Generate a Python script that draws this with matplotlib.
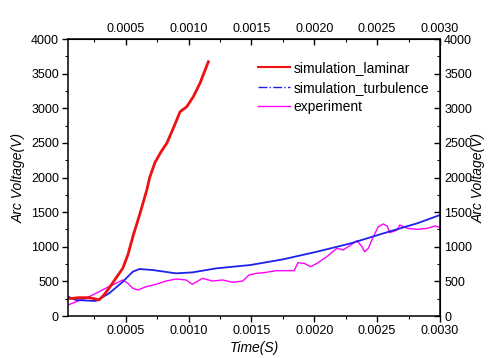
import numpy as np
import matplotlib
matplotlib.use("Agg")
import matplotlib.pyplot as plt
from matplotlib.lines import Line2D
from matplotlib.ticker import MultipleLocator

plt.rcParams["font.family"] = ["Liberation Sans", "DejaVu Sans"]

# datos
t_lam = [0.00004, 0.00007, 0.000127, 0.000207, 0.00025, 0.000286, 0.000326, 0.000366,
         0.00042, 0.000476, 0.000516, 0.00056, 0.000614, 0.000667, 0.00069, 0.000733,
         0.00078, 0.000826, 0.00088, 0.000932, 0.000985, 0.001037, 0.00109, 0.001157]
v_lam = [255, 255, 265, 265, 250, 231, 303, 400,
         544, 689, 880, 1170, 1487, 1820, 2000, 2220,
         2370, 2494, 2720, 2950, 3022, 3167, 3360, 3672]

t_tur = [0.00004, 0.000105, 0.000262, 0.000368, 0.000476, 0.000556, 0.000608, 0.000714,
         0.0009, 0.00103, 0.00122, 0.00149, 0.00175, 0.00202, 0.00229, 0.00255,
         0.00282, 0.003]
v_tur = [279, 231, 217, 328, 495, 640, 679, 664,
         616, 630, 688, 736, 818, 928, 1049, 1194,
         1339, 1458]

t_exp = [0.00004, 0.000105, 0.000183, 0.000262, 0.00034, 0.00042, 0.000476, 0.000516,
         0.000556, 0.000595, 0.000661, 0.00074, 0.00082, 0.0009, 0.00098, 0.00103,
         0.00111, 0.00119, 0.00127, 0.00135, 0.00143, 0.00148, 0.00154, 0.0016,
         0.0017, 0.00178, 0.00184, 0.00187, 0.00192, 0.00197, 0.00202, 0.0021,
         0.00218, 0.00223, 0.00229, 0.00234, 0.00238, 0.0024, 0.00243, 0.00247,
         0.00251, 0.00255, 0.00258, 0.0026, 0.00266, 0.00268, 0.00274, 0.00282,
         0.0029, 0.00296, 0.003]
v_exp = [159, 207, 255, 328, 400, 472, 520, 472,
         400, 375, 423, 458, 505, 534, 520, 458,
         544, 505, 520, 487, 505, 592, 616, 626,
         655, 655, 655, 770, 760, 712, 760, 857,
         978, 953, 1025, 1088, 1001, 928, 977, 1146,
         1290, 1329, 1300, 1203, 1242, 1314, 1266, 1252,
         1266, 1300, 1280]

fig = plt.figure(figsize=(4.91, 3.58), dpi=100)
ax = fig.add_axes([0.1385, 0.1173, 0.7575, 0.7737])

ax.plot(t_exp, v_exp, color="#ff00ff", lw=1.0)
ax.plot(t_tur, v_tur, color="#2020ee", lw=1.3)
ax.plot(t_lam, v_lam, color="#ee1111", lw=2.0)

ax.set_xlim(0.00004, 0.003)
ax.set_ylim(0, 4000)
fmt = matplotlib.ticker.FormatStrFormatter("%.4f")
ax.xaxis.set_major_locator(MultipleLocator(0.0005))
ax.xaxis.set_minor_locator(MultipleLocator(0.00025))
ax.yaxis.set_major_locator(MultipleLocator(500))
ax.yaxis.set_minor_locator(MultipleLocator(250))
ax.xaxis.set_major_formatter(fmt)
ax.tick_params(which="major", direction="out", length=4, width=1, labelsize=9, pad=2.5)
ax.tick_params(which="minor", direction="out", length=2.5, width=0.8)
ax.set_xlabel("Time(S)", style="italic", fontsize=10, labelpad=3)
ax.set_ylabel("Arc Voltage(V)", style="italic", fontsize=10, labelpad=4)

top = ax.secondary_xaxis("top")
top.xaxis.set_major_locator(MultipleLocator(0.0005))
top.xaxis.set_minor_locator(MultipleLocator(0.00025))
top.xaxis.set_major_formatter(fmt)
top.tick_params(which="major", direction="in", length=4, width=1, labelsize=9, pad=3)
top.tick_params(which="minor", direction="in", length=2.5, width=0.8)

right = ax.secondary_yaxis("right")
right.yaxis.set_major_locator(MultipleLocator(500))
right.yaxis.set_minor_locator(MultipleLocator(250))
right.tick_params(which="major", direction="in", length=4, width=1, labelsize=9, pad=3)
right.tick_params(which="minor", direction="in", length=2.5, width=0.8)
right.set_ylabel("Arc Voltage(V)", style="italic", fontsize=10, rotation=90, labelpad=0)

# textos de offset vacios fuera
for a in (ax.xaxis, ax.yaxis, top.xaxis, right.yaxis):
    a.offsetText.set_visible(False)

for s in ax.spines.values():
    s.set_linewidth(1.1)

handles = [
    Line2D([], [], color="#ee1111", lw=1.5),
    Line2D([], [], color="#2020ee", lw=1.0, ls="-."),
    Line2D([], [], color="#ff00ff", lw=1.0),
]
labels = ["simulation_laminar", "simulation_turbulence", "experiment"]
ax.legend(handles, labels, loc="upper right", bbox_to_anchor=(1.005, 0.965),
          frameon=False, fontsize=10, handlelength=2.3, handletextpad=0.3,
          labelspacing=0.4)

fig.savefig("out.png", dpi=100)
